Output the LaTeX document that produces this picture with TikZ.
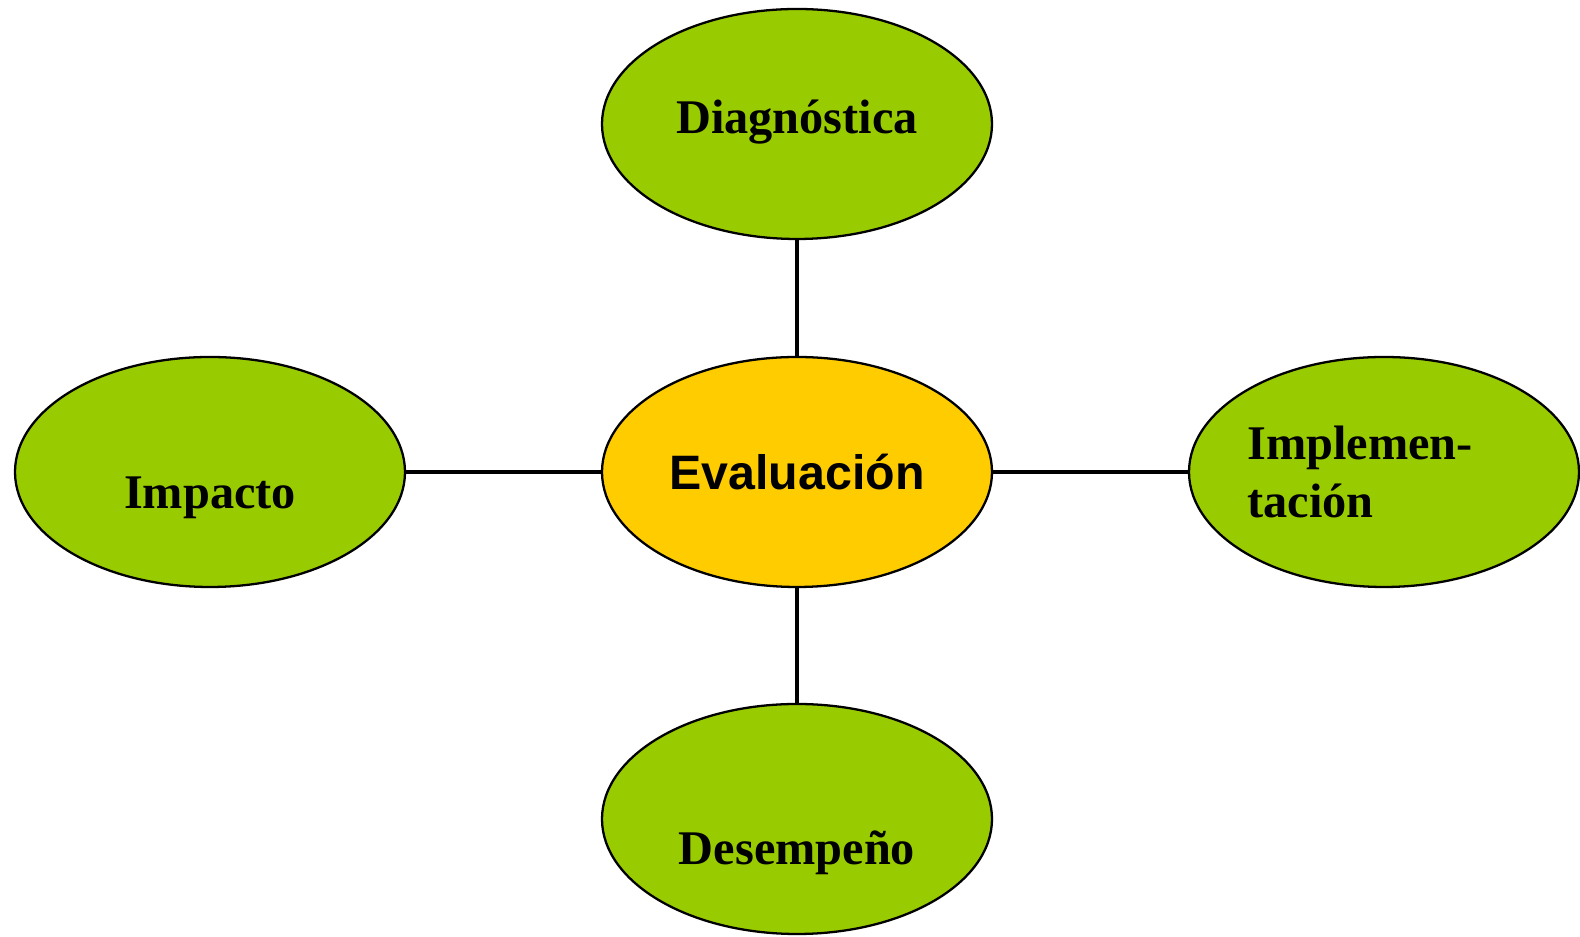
\documentclass[tikz,border=0pt]{standalone}
\usepackage{fontspec}
\setmainfont{Liberation Serif}
\newfontfamily\arialfont{Liberation Sans}
\usetikzlibrary{shapes.geometric}
\definecolor{leafgreen}{RGB}{153, 204, 0}
\definecolor{sunyellow}{RGB}{255, 204, 0}

\begin{document}
\begin{tikzpicture}[
    oval/.style={ellipse, draw=black, line width=1.3pt, fill=leafgreen, minimum width=7.8cm, minimum height=4.6cm, inner sep=0pt},
    lbl/.style={anchor=base, font=\fontsize{27.5}{33}\selectfont\bfseries},
    spoke/.style={line width=2.8pt}
  ]
  \useasboundingbox (0,0) rectangle (31.6,18.74);

  % the five ovals
  \node[oval, fill=sunyellow] (eval) at (15.94, 9.30) {};
  \node[oval] (diag) at (15.94, 16.26) {};
  \node[oval] (imp)  at (4.20, 9.30) {};
  \node[oval] (impl) at (27.68, 9.30) {};
  \node[oval] (des)  at (15.94, 2.36) {};

  % spokes
  \draw[spoke] (diag) -- (eval);
  \draw[spoke] (imp) -- (eval);
  \draw[spoke] (eval) -- (impl);
  \draw[spoke] (eval) -- (des);

  % texts
  \node[lbl, font=\fontsize{27.5}{33}\selectfont\arialfont\bfseries] (evaltxt) at (15.94, 8.94) {Evaluación};
  \node[lbl] (diagtxt) at (15.94, 16.06) {Diagnóstica};
  \node[lbl] (imptxt) at (4.20, 8.56) {Impacto};
  \node[lbl] (destxt) at (15.94, 1.44) {Desempeño};
  \node[lbl, anchor=base west, align=left, inner sep=0pt] (impltxt) at (24.94, 8.38) {Implemen-\\tación};
\end{tikzpicture}
\end{document}
